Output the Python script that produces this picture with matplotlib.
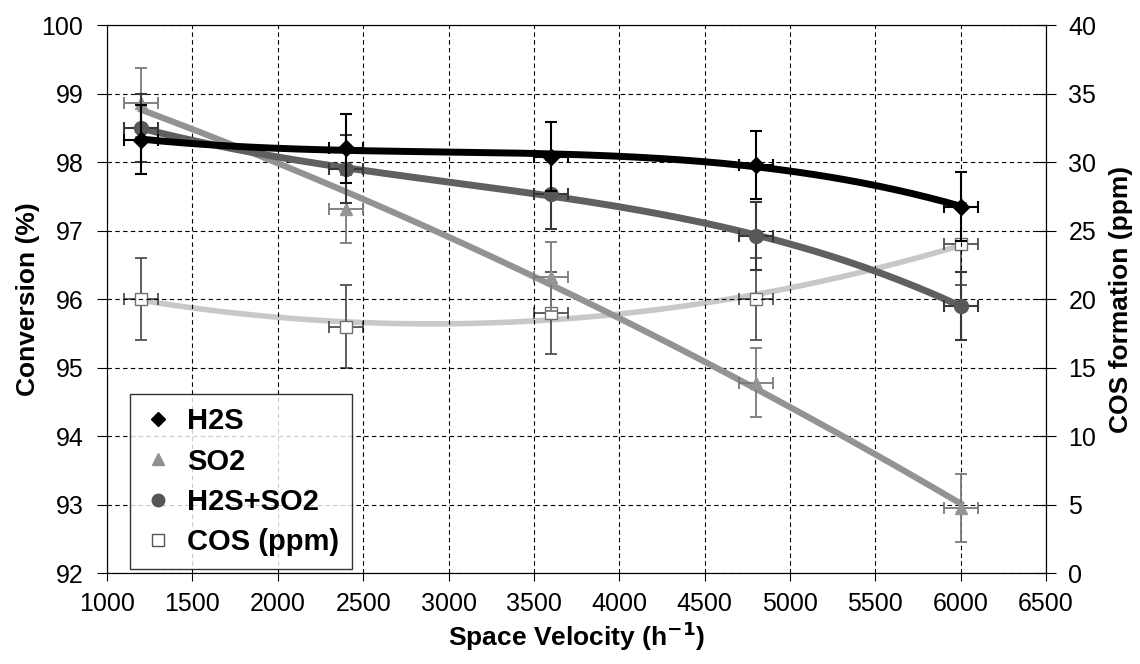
import numpy as np
import matplotlib
matplotlib.use("Agg")
import matplotlib.pyplot as plt
from matplotlib.ticker import MultipleLocator
from matplotlib.lines import Line2D

plt.rcParams['font.family'] = ['Liberation Sans', 'DejaVu Sans']

space_velocity = [1200, 2400, 3600, 4800, 6000]
h2s = [98.33, 98.20, 98.08, 97.96, 97.35]
so2 = [98.87, 97.32, 96.33, 94.78, 92.95]
h2s_so2 = [98.50, 97.90, 97.53, 96.92, 95.90]
cos_ppm = [20.0, 18.0, 19.0, 20.0, 24.0]
conv_err = [0.5, 0.5, 0.5, 0.5, 0.5]
cos_err = [3.0, 3.0, 3.0, 3.0, 3.0]
x_err = [100, 100, 100, 100, 100]

fig = plt.figure(figsize=(11.4, 6.64), dpi=100)
ax = fig.add_axes([0.0939, 0.137, 0.8237, 0.825])
ax2 = ax.twinx()

x = np.array(space_velocity, dtype=float)
xs = np.linspace(x.min(), x.max(), 200)

def trend(y, deg):
    c = np.polyfit(x, y, deg)
    return np.polyval(c, xs)

FS = 18
LFS = 19
LEGFS = 21

# COS on right axis
ax2.plot(xs, trend(cos_ppm, 2), color='#c8c8c8', lw=4, zorder=2)
ax2.errorbar(space_velocity, cos_ppm, yerr=cos_err, xerr=x_err, fmt='s', ms=8,
             mfc='white', mec='#707070', ecolor='#505050', elinewidth=1.3, capsize=4,
             capthick=1.3, zorder=3)

ax.plot(xs, trend(so2, 2), color='#939393', lw=4.5, zorder=3)
ax.errorbar(space_velocity, so2, yerr=conv_err, xerr=x_err, fmt='^', ms=9,
            color='#959595', ecolor='#7a7a7a', elinewidth=1.3, capsize=4, capthick=1.3, zorder=4)

ax.plot(xs, trend(h2s_so2, 3), color='#606060', lw=5, zorder=4)
ax.errorbar(space_velocity, h2s_so2, yerr=conv_err, xerr=x_err, fmt='o', ms=10,
            color='#585858', ecolor='#383838', elinewidth=1.5, capsize=4, capthick=1.5, zorder=5)

ax.plot(xs, trend(h2s, 3), color='black', lw=5, zorder=5)
ax.errorbar(space_velocity, h2s, yerr=conv_err, xerr=x_err, fmt='D', ms=8,
            color='black', ecolor='black', elinewidth=1.5, capsize=4, capthick=1.5, zorder=6)

ax.set_zorder(ax2.get_zorder() + 1)
ax.patch.set_visible(False)

ax.set_xlim(1000, 6500)
ax.set_ylim(92, 100)
ax2.set_ylim(0, 40)
ax.xaxis.set_major_locator(MultipleLocator(500))
ax.yaxis.set_major_locator(MultipleLocator(1))
ax2.yaxis.set_major_locator(MultipleLocator(5))

ax.grid(True, which='major', color='black', linestyle=(0, (4, 3)), linewidth=0.8)
ax.set_axisbelow(True)

ax.tick_params(axis='y', labelsize=FS, direction='out', length=7, pad=10)
ax.tick_params(axis='x', labelsize=FS, direction='out', length=6, pad=8)
ax2.tick_params(labelsize=FS, direction='inout', length=14, pad=9)

ax.set_xlabel('Space Velocity (h$^{\\mathbf{-1}}$)', fontsize=LFS, fontweight='bold', labelpad=2)
ax.set_ylabel('Conversion (%)', fontsize=LFS, fontweight='bold', labelpad=1)
ax2.set_ylabel('COS formation (ppm)', fontsize=LFS, fontweight='bold', labelpad=9)

handles = [
    Line2D([], [], ls='none', marker='D', ms=7, color='black'),
    Line2D([], [], ls='none', marker='^', ms=8, color='#909090'),
    Line2D([], [], ls='none', marker='o', ms=9, color='#555555'),
    Line2D([], [], ls='none', marker='s', ms=8, mfc='white', mec='#555555'),
]
labels = ['H2S', 'SO2', 'H2S+SO2', 'COS (ppm)']
leg = ax.legend(handles, labels, loc='lower left', bbox_to_anchor=(0.0245, 0.007),
                prop={'size': LEGFS, 'weight': 'bold'}, frameon=True, fancybox=False,
                edgecolor='black', handlelength=1.0, handletextpad=0.5,
                labelspacing=0.42, borderpad=0.45, borderaxespad=0)
leg.get_frame().set_linewidth(1.0)

fig.savefig('out.png', dpi=100)
